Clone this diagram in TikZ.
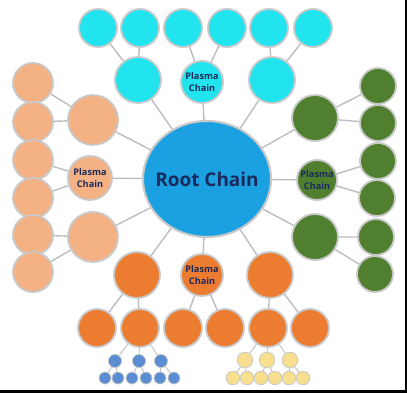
\documentclass[tikz,border=0pt]{standalone}
\usepackage{fontspec}
\setsansfont{Open Sans}
\usetikzlibrary{positioning,shapes.geometric}

\definecolor{aqua}{HTML}{22E4EE}
\definecolor{rootblue}{HTML}{1BA1E2}
\definecolor{peach}{HTML}{F4B183}
\definecolor{leaf}{HTML}{50802F}
\definecolor{tangerine}{HTML}{EC7C30}
\definecolor{steel}{HTML}{5B8DD2}
\definecolor{butter}{HTML}{F7DF8E}
\definecolor{rim}{HTML}{C9C9C9}
\definecolor{wire}{HTML}{BDBDBD}
\definecolor{navy}{HTML}{1B2A5C}

\begin{document}
\begin{tikzpicture}[
    x=0.25mm, y=-0.25mm,
    bub/.style={
      circle,
      draw=rim,
      line width=1.3pt,
      inner sep=0pt,
      align=center,
      text=navy,
      font=\sffamily\bfseries\fontsize{6.5}{8.5}\selectfont
    },
    big/.style={bub, minimum size=11.5mm},
    plasma/.style={bub, minimum size=10.5mm},
    small/.style={bub, minimum size=9.5mm},
    dot/.style={bub, line width=0.6pt, minimum size=3.3mm},
    link/.style={draw=wire, line width=1pt}
]
  \useasboundingbox (0,0) rectangle (407,393);

  % Root
  \node[ellipse, draw=rim, line width=1.5pt, fill=rootblue, inner sep=0pt,
        minimum width=32mm, minimum height=29mm, text=navy,
        font=\sffamily\bfseries\fontsize{13.5}{16}\selectfont] (root) at (207,179) {\makebox[0pt]{Root Chain}};

  % Top branch (cyan)
  \node[big, fill=aqua]    (cl) at (138,80) {};
  \node[plasma, fill=aqua] (cp) at (202,82) {Plasma\\Chain};
  \node[big, fill=aqua]    (cr) at (272,80) {};
  \foreach \i/\x in {1/98,2/140,3/183,4/227,5/269,6/313}
    \node[small, fill=aqua] (c\i) at (\x,28) {};

  % Left branch (peach)
  \node[big, minimum size=12.5mm, fill=peach] (pt) at (93,120) {};
  \node[plasma, minimum size=11mm, fill=peach] (pp) at (90,178) {Plasma\\Chain};
  \node[big, minimum size=12.5mm, fill=peach] (pb) at (93,237) {};
  \foreach \i/\y in {1/83,2/122,3/160,4/198,5/235,6/272}
    \node[small, minimum size=10mm, fill=peach] (p\i) at (33,\y) {};

  % Right branch (green)
  \node[big, fill=leaf]    (gt) at (315,118) {};
  \node[plasma, minimum size=10mm, fill=leaf] (gp) at (317,180) {Plasma\\Chain};
  \node[big, fill=leaf]    (gb) at (315,237) {};
  \foreach \i/\x/\y in {1/378/86,2/378/123,3/378/161,4/377/198,5/376/237,6/375/274}
    \node[small, minimum size=9mm, fill=leaf] (g\i) at (\x,\y) {};

  % Bottom branch (orange)
  \node[big, fill=tangerine]    (ol) at (137,275) {};
  \node[plasma, fill=tangerine] (op) at (202,275) {Plasma\\Chain};
  \node[big, fill=tangerine]    (orr) at (270,275) {};
  \foreach \i/\x in {1/97,2/140,3/183,4/225,5/268,6/310}
    \node[small, fill=tangerine] (o\i) at (\x,328) {};

  % Small trees under the orange row
  \foreach \i/\x in {1/115,2/139,3/161}
    \node[dot, fill=steel] (b\i) at (\x,361) {};
  \foreach \i/\x in {1/105,2/118,3/132,4/146,5/160,6/174}
    \node[dot, minimum size=3mm, fill=steel] (bb\i) at (\x,378) {};
  \foreach \i/\x in {1/245,2/267,3/290}
    \node[dot, minimum size=3.9mm, fill=butter] (y\i) at (\x,360) {};
  \foreach \i/\x in {1/233,2/247,3/261,4/275,5/289,6/303}
    \node[dot, minimum size=3.4mm, fill=butter] (yy\i) at (\x,378) {};

  % Connectors
  \foreach \n in {cl,cp,cr,pt,pp,pb,gt,gp,gb,ol,op,orr}
    \draw[link] (root) -- (\n);
  \foreach \a/\b/\c in {cl/c1/c2,cp/c3/c4,cr/c5/c6,pt/p1/p2,pp/p3/p4,pb/p5/p6,
                        gt/g1/g2,gp/g3/g4,gb/g5/g6,ol/o1/o2,op/o3/o4,orr/o5/o6}
    \draw[link] (\b) -- (\a) -- (\c);
  \draw[link, line width=0.6pt] (b1) -- (o2) -- (b3) (o2) -- (b2);
  \draw[link, line width=0.6pt] (y1) -- (o5) -- (y3) (o5) -- (y2);
  \foreach \a/\b/\c in {b1/bb1/bb2,b2/bb3/bb4,b3/bb5/bb6,y1/yy1/yy2,y2/yy3/yy4,y3/yy5/yy6}
    \draw[link, line width=0.6pt] (\b) -- (\a) -- (\c);

  % Frame shadow
  \fill[black] (404.5,0) rectangle (407,393);
  \fill[black] (0,389.5) rectangle (407,393);
\end{tikzpicture}
\end{document}
